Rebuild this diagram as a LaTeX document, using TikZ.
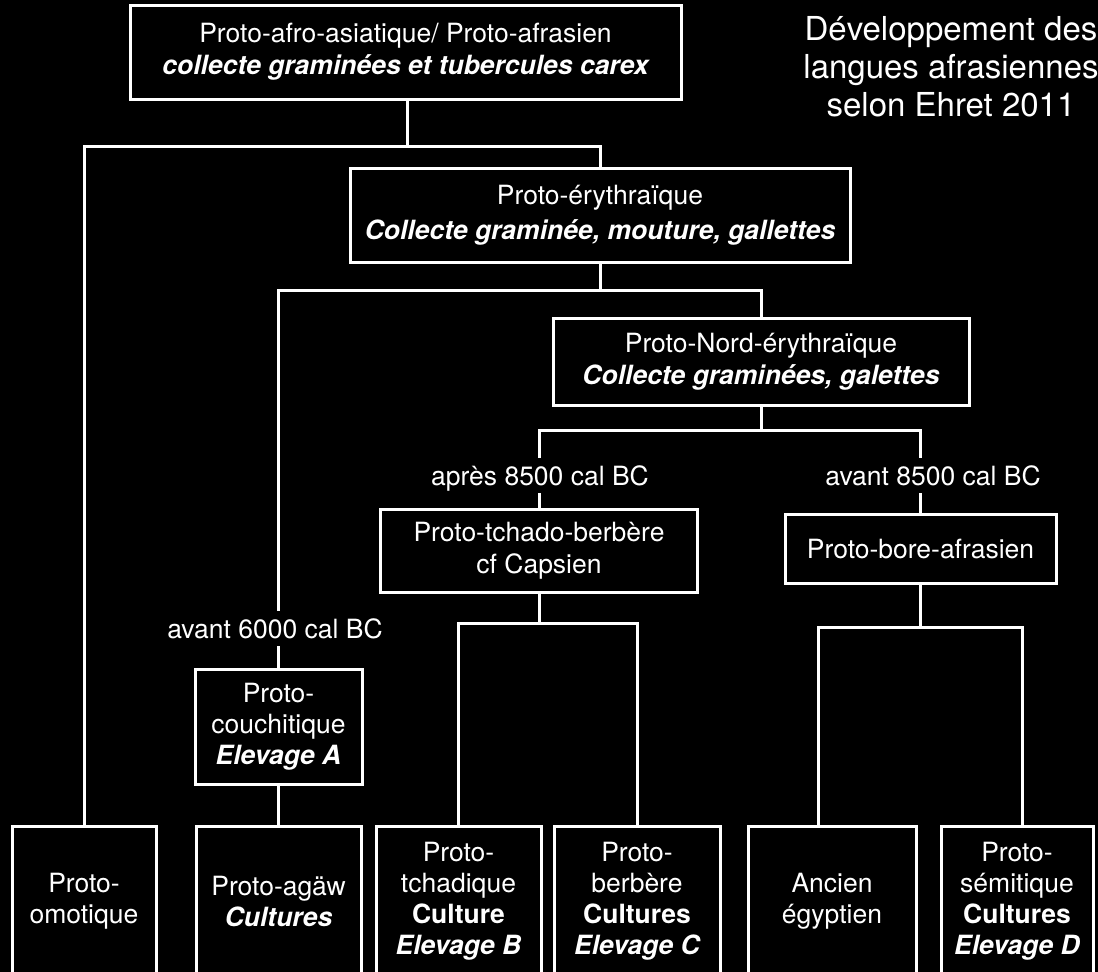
\documentclass[tikz,border=0pt]{standalone}
\usepackage{fontspec}
\setmainfont{TeX Gyre Heros}
\newcommand{\bitx}[1]{{\bfseries\itshape #1}}
\begin{document}
\begin{tikzpicture}[x=1pt,y=-1pt,
  box/.style={draw=white, line width=3pt, text=white, align=center, inner sep=0pt,
    font=\fontsize{26.5}{32}\selectfont},
  bbox/.style={box, minimum height=150pt, font=\fontsize{26.5}{31}\selectfont},
  lbl/.style={text=white, font=\fontsize{26.5}{32}\selectfont, anchor=base,
    text height=19pt, text depth=0pt, inner ysep=8pt, inner xsep=0pt},
  conn/.style={white, line width=3pt}]
\fill[black] (0,0) rectangle (1098,972);
\useasboundingbox (0,0) rectangle (1098,972);
\clip (0,0) rectangle (1098,972);
% boxes
\node[box, minimum width=551pt, minimum height=94pt] (top) at (405.5,52)
  {Proto-afro-asiatique/ Proto-afrasien\\\bitx{collecte graminées et tubercules carex}};
\node[text=white, align=center, font=\fontsize{33}{38}\selectfont] (title) at (951,67)
  {Développement des\\langues afrasiennes\\selon Ehret 2011};
\node[box, minimum width=500pt, minimum height=94pt, font=\fontsize{26.5}{35}\selectfont] (ery) at (600,215)
  {Proto-érythraïque\\\bitx{Collecte graminée, mouture, gallettes}};
\node[box, minimum width=416pt, minimum height=87pt] (nord) at (761,361.5)
  {Proto-Nord-érythraïque\\\bitx{Collecte graminées, galettes}};
\node[box, minimum width=317pt, minimum height=83pt] (tchb) at (539,550.5)
  {Proto-tchado-berbère\\cf Capsien};
\node[box, minimum width=271pt, minimum height=69pt] (bore) at (920.5,548.5)
  {Proto-bore-afrasien};
\node[box, minimum width=167pt, minimum height=115pt, font=\fontsize{26.5}{31}\selectfont] (couch) at (278.5,726.5)
  {Proto-\\couchitique\\\bitx{Elevage A}};
\node[bbox, minimum width=144pt] (omot) at (84,901) {Proto-\\omotique};
\node[bbox, minimum width=165pt] (agaw) at (278.5,901) {Proto-agäw\\\bitx{Cultures}};
\node[bbox, minimum width=165pt] (tchad) at (458.5,901)
  {Proto-\\tchadique\\\textbf{Culture}\\\bitx{Elevage B}};
\node[bbox, minimum width=166pt] (berb) at (637,901)
  {Proto-\\berbère\\\textbf{Cultures}\\\bitx{Elevage C}};
\node[bbox, minimum width=168pt] (egypt) at (832,901) {Ancien\\égyptien};
\node[bbox, minimum width=152pt] (semit) at (1017,901)
  {Proto-\\sémitique\\\textbf{Cultures}\\\bitx{Elevage D}};
% labels
\node[lbl] (l6000) at (275,638) {avant 6000 cal BC};
\node[lbl] (lapres) at (540,485) {après 8500 cal BC};
\node[lbl] (lavant) at (933,485) {avant 8500 cal BC};
% junctions
\coordinate (j1) at (407,146);
\coordinate (j2) at (600,290);
\coordinate (j3) at (761,430);
\coordinate (j4) at (539,623);
\coordinate (j5) at (920.5,627);
\coordinate (e1) at (818,627);
\coordinate (s1) at (1022,627);
% connectors
\draw[conn] (top.south -| j1) -- (j1);
\draw[conn] (omot.north) |- (j1) -| (ery.north);
\draw[conn] (ery.south) -- (j2);
\draw[conn] (l6000.north -| couch.north) |- (j2) -| (nord.north);
\draw[conn] (l6000.south -| couch.north) -- (couch.north);
\draw[conn] (couch.south) -- (agaw.north);
\draw[conn] (nord.south) -- (j3);
\draw[conn] (lapres.north -| tchb.north) |- (j3) -| (lavant.north -| bore.north);
\draw[conn] (lapres.south -| tchb.north) -- (tchb.north);
\draw[conn] (lavant.south -| bore.north) -- (bore.north);
\draw[conn] (tchb.south) -- (j4);
\draw[conn] (tchad.north) |- (j4) -| (berb.north);
\draw[conn] (bore.south) -- (j5);
\draw[conn] (e1 |- egypt.north) -- (e1) -- (s1) -- (s1 |- semit.north);
\end{tikzpicture}
\end{document}
